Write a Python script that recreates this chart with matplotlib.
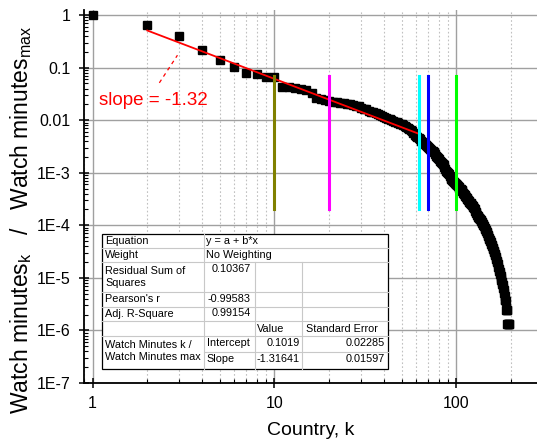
import numpy as np
import matplotlib
matplotlib.use("Agg")
import matplotlib.pyplot as plt
from matplotlib.lines import Line2D
from matplotlib.patches import Rectangle
from matplotlib.ticker import LogLocator, NullFormatter, FixedLocator

plt.rcParams['font.family'] = ['Liberation Sans', 'DejaVu Sans']
plt.rcParams['mathtext.fontset'] = 'custom'
plt.rcParams['mathtext.rm'] = 'Liberation Sans'
plt.rcParams['mathtext.it'] = 'Liberation Sans:italic'

# normalised watch minutes per country rank k = 1..195
watch = [
    1.0, 0.66, 0.40, 0.22, 0.138, 0.104, 0.078, 0.075, 0.066, 0.065,
    0.0435, 0.042, 0.0405, 0.039, 0.037, 0.033, 0.026, 0.025, 0.0245, 0.0235,
    0.0225, 0.022, 0.0215, 0.021, 0.0205, 0.020, 0.0195, 0.019, 0.0182, 0.0172,
    0.0165, 0.016, 0.0152, 0.0145, 0.014, 0.0135, 0.013, 0.0125, 0.012, 0.0115,
    0.011, 0.0107, 0.0103, 0.010, 0.0097, 0.0094, 0.0091, 0.0088, 0.0085, 0.0083,
    0.0081, 0.0078, 0.0075, 0.0072, 0.0069, 0.0066, 0.0062, 0.0057, 0.0052, 0.0049,
    0.0047, 0.0045, 0.0043, 0.0041, 0.0039, 0.0037, 0.0035, 0.0033, 0.0032, 0.0031,
    0.0029, 0.0028, 0.0027, 0.0026, 0.0025, 0.0023, 0.0021, 0.0020, 0.0019, 0.0018,
    0.0017, 0.0016, 0.0015, 0.00145, 0.0014, 0.0013, 0.0012, 0.0011, 0.00105, 0.0010,
    9.3e-4, 8.7e-4, 8.0e-4, 7.5e-4, 7.2e-4, 6.9e-4, 6.6e-4, 6.4e-4, 6.2e-4, 6.0e-4,
    5.8e-4, 5.6e-4, 5.4e-4, 5.2e-4, 5.0e-4, 4.8e-4, 4.6e-4, 4.4e-4, 4.2e-4, 4.0e-4,
    3.8e-4, 3.6e-4, 3.4e-4, 3.3e-4, 3.1e-4, 3.0e-4, 2.9e-4, 2.8e-4, 2.7e-4, 2.6e-4,
    2.5e-4, 2.4e-4, 2.3e-4, 2.2e-4, 2.1e-4, 2.0e-4, 1.9e-4, 1.8e-4, 1.7e-4, 1.6e-4,
    1.5e-4, 1.45e-4, 1.4e-4, 1.35e-4, 1.3e-4, 1.25e-4, 1.2e-4, 1.15e-4, 1.1e-4, 1.05e-4,
    1.0e-4, 9.5e-5, 9.0e-5, 8.5e-5, 8.0e-5, 7.8e-5, 7.5e-5, 7.0e-5, 6.6e-5, 6.2e-5,
    5.8e-5, 5.5e-5, 5.2e-5, 5.0e-5, 4.8e-5, 4.5e-5, 4.2e-5, 4.0e-5, 3.7e-5, 3.5e-5,
    3.3e-5, 3.1e-5, 2.9e-5, 2.7e-5, 2.5e-5, 2.3e-5, 2.1e-5, 2.0e-5, 1.8e-5, 1.6e-5,
    1.5e-5, 1.35e-5, 1.3e-5, 1.2e-5, 1.1e-5, 1.0e-5, 9.2e-6, 8.5e-6, 7.8e-6, 7.2e-6,
    6.5e-6, 5.8e-6, 5.2e-6, 4.6e-6, 3.8e-6, 3.8e-6, 3.7e-6, 2.5e-6, 2.5e-6, 2.4e-6,
    1.3e-6, 1.3e-6, 1.3e-6, 1.3e-6, 1.3e-6,
]
rank = np.arange(1, len(watch) + 1)

# linear fit in log-log space (from the fit table)
intercept = 0.1019
slope = -1.31641
fit_range = [2, 62]

# vertical marker lines
vline_k = [10, 20, 62, 70, 100]
vline_colors = ['#808000', '#ff00ff', '#00ffff', '#0000ff', '#00ff00']
vline_lo, vline_hi = 2e-4, 0.068

W, H = 537, 443
fig = plt.figure(figsize=(W / 100, H / 100), dpi=100)
ax = fig.add_axes([83.5 / W, 1 - 383 / H, 1 - 83.5 / W, (383 - 10) / H])

ax.set_xscale('log')
ax.set_yscale('log')
ax.set_xlim(0.892, 10 ** ((537 - 92.3) / 182))
ax.set_ylim(1e-7, 10 ** (5 / 52.4))

ax.plot(rank, watch, 's', color='black', ms=6, zorder=3)

fx = np.array(fit_range, dtype=float)
ax.plot(fx, 10 ** (intercept + slope * np.log10(fx)), color='red', lw=1.3, zorder=4)

for k, c in zip(vline_k, vline_colors):
    ax.plot([k, k], [vline_lo, vline_hi], color=c, lw=2.2, zorder=5)

ax.text(1.088, 0.024, 'slope = -1.32', color='red', fontsize=13.5, va='center', ha='left')
ax.plot([2.33, 2.93], [0.0513, 0.172], color='red', lw=0.9, ls=(0, (3, 3)))

# grid & ticks
ax.xaxis.set_major_locator(FixedLocator([1, 10, 100]))
ax.xaxis.set_minor_locator(LogLocator(base=10, subs=np.arange(2, 10), numticks=20))
ax.xaxis.set_minor_formatter(NullFormatter())
ax.set_xticklabels(['1', '10', '100'])
yt = [1e-7, 1e-6, 1e-5, 1e-4, 1e-3, 0.01, 0.1, 1]
ax.yaxis.set_major_locator(FixedLocator(yt))
ax.set_yticklabels(['1E-7', '1E-6', '1E-5', '1E-4', '1E-3', '0.01', '0.1', '1'])
ax.yaxis.set_minor_locator(LogLocator(base=10, subs=np.arange(2, 10), numticks=20))
ax.yaxis.set_minor_formatter(NullFormatter())

ax.grid(True, which='major', color='#a0a0a0', lw=1.0, zorder=0)
ax.grid(True, which='minor', axis='x', color='#c0c0c0', lw=0.8, ls=(0, (1.5, 2)))
ax.set_axisbelow(True)
ax.tick_params(which='major', direction='inout', length=7, width=1.1, labelsize=11.5)
ax.tick_params(which='minor', direction='in', length=3, width=0.8)
ax.tick_params(axis='y', which='major', pad=6)
ax.tick_params(axis='x', which='major', pad=6)
ax.spines['top'].set_visible(False)
ax.spines['right'].set_visible(False)
ax.spines['left'].set_linewidth(1.3)
ax.spines['bottom'].set_linewidth(1.3)

ax.set_xlabel('Country, k', fontsize=14, labelpad=8)
ax.set_ylabel(r'Watch minutes$_\mathrm{k}$   /   Watch minutes$_\mathrm{max}$', fontsize=16.5)
ax.yaxis.set_label_coords(-0.11, 0.437)


# fit result table, laid out in figure pixels
def px(x, y):
    return x / W, 1 - y / H


x0, x1, x2, x3, x4 = 102, 203.8, 254.5, 302.4, 388
y_top, y_bot = 234.3, 368.7
x_, y_ = px(x0, y_bot)
fig.add_artist(Rectangle((x_, y_), (x4 - x0) / W, (y_bot - y_top) / H,
                         transform=fig.transFigure, facecolor='white',
                         edgecolor='black', lw=0.9, zorder=10))
gc = '#c8c8c8'


def seg(xa, ya, xb, yb):
    (a, b), (c, d) = px(xa, ya), px(xb, yb)
    fig.add_artist(Line2D([a, c], [b, d], transform=fig.transFigure, color=gc, lw=0.8, zorder=11))


for yy in [248.3, 262.3, 292, 306.7, 321, 335.5]:
    seg(x0, yy, x4, yy)
seg(x1, 351.6, x4, 351.6)
seg(x1, y_top, x1, y_bot)
seg(x2, 262.3, x2, y_bot)
seg(x3, 262.3, x3, y_bot)

cells = [
    ('Equation', 105, 241.3, 'left'), ('y = a + b*x', 206.5, 241.3, 'left'),
    ('Weight', 105, 255.3, 'left'), ('No Weighting', 206.5, 255.3, 'left'),
    ('Residual Sum of', 105, 270.5, 'left'), ('Squares', 105, 283, 'left'),
    ('0.10367', 251, 269.5, 'right'),
    ("Pearson's r", 105, 299.3, 'left'), ('-0.99583', 251, 298.5, 'right'),
    ('Adj. R-Square', 105, 314, 'left'), ('0.99154', 251, 313.5, 'right'),
    ('Value', 256.7, 329, 'left'), ('Standard Error', 305.5, 329, 'left'),
    ('Watch Minutes k /', 105, 345.3, 'left'), ('Watch Minutes max', 105, 357.5, 'left'),
    ('Intercept', 206.5, 343, 'left'), ('Slope', 206.5, 358.5, 'left'),
    ('0.1019', 299.5, 343, 'right'), ('-1.31641', 299.5, 358.5, 'right'),
    ('0.02285', 385, 343, 'right'), ('0.01597', 385, 358.5, 'right'),
]
for txt, cx, cy, ha in cells:
    a, b = px(cx, cy)
    fig.text(a, b, txt, ha=ha, va='center', fontsize=7.8, zorder=12)

fig.savefig('out.png', dpi=100)
